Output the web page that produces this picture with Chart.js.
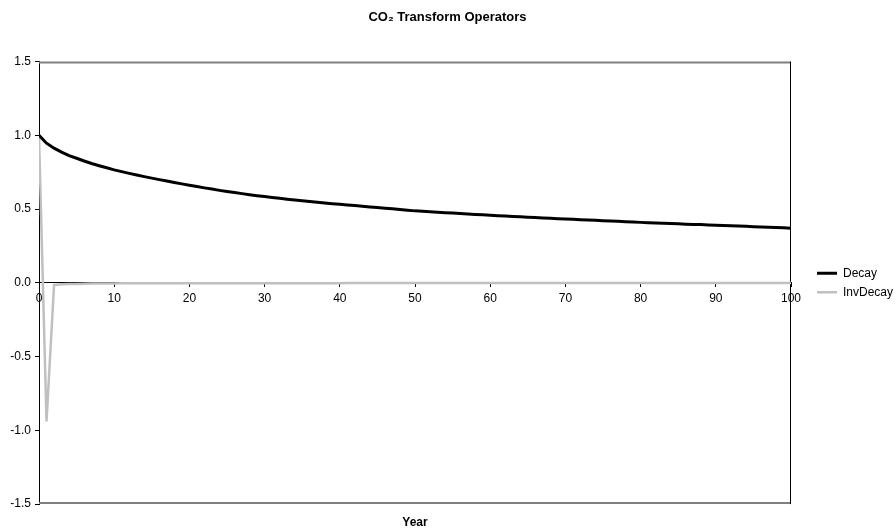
<!DOCTYPE html>
<html>
<head>
<meta charset="utf-8">
<script src="https://cdn.jsdelivr.net/npm/chart.js@4/dist/chart.umd.min.js"></script>
<style>
  body { margin: 0; background: #fff; }
  #wrap { width: 895px; height: 531px; position: relative; }
</style>
</head>
<body>
<div id="wrap"><canvas id="myChart"></canvas></div>
<script>
'use strict';

let years = [0,1,2,3,4,5,6,7,8,9,10,11,12,13,14,15,16,17,18,19,20,
  21,22,23,24,25,26,27,28,29,30,31,32,33,34,35,36,37,38,39,40,
  41,42,43,44,45,46,47,48,49,50,51,52,53,54,55,56,57,58,59,60,
  61,62,63,64,65,66,67,68,69,70,71,72,73,74,75,76,77,78,79,80,
  81,82,83,84,85,86,87,88,89,90,91,92,93,94,95,96,97,98,99,100];

let decay = [1.000,0.947,0.913,0.886,0.863,0.845,0.826,0.809,0.794,0.780,0.766,
  0.754,0.742,0.731,0.720,0.710,0.700,0.690,0.680,0.671,0.662,
  0.653,0.644,0.636,0.627,0.619,0.612,0.605,0.598,0.591,0.585,
  0.579,0.573,0.567,0.561,0.556,0.551,0.546,0.542,0.537,0.533,
  0.528,0.524,0.519,0.515,0.511,0.506,0.502,0.497,0.493,0.488,
  0.485,0.482,0.479,0.476,0.473,0.470,0.467,0.464,0.461,0.458,
  0.455,0.453,0.450,0.448,0.445,0.443,0.440,0.438,0.435,0.433,
  0.431,0.428,0.426,0.424,0.421,0.419,0.417,0.414,0.412,0.410,
  0.408,0.406,0.404,0.402,0.400,0.398,0.396,0.395,0.393,0.391,
  0.389,0.387,0.385,0.383,0.381,0.379,0.377,0.375,0.373,0.371];

let invDecay = [1.000,-0.940,-0.014,-0.010,-0.008,-0.007,-0.006,-0.005,-0.005,-0.004,-0.004,
  -0.003,-0.003,-0.003,-0.003,-0.003,-0.003,-0.003,-0.003,-0.003,-0.003,
  -0.002,-0.002,-0.002,-0.002,-0.002,-0.002,-0.002,-0.002,-0.002,-0.002,
  -0.002,-0.002,-0.002,-0.002,-0.002,-0.002,-0.002,-0.002,-0.002,-0.002,
  -0.001,-0.001,-0.001,-0.001,-0.001,-0.001,-0.001,-0.001,-0.001,-0.001,
  -0.001,-0.001,-0.001,-0.001,-0.001,-0.001,-0.001,-0.001,-0.001,-0.001,
  -0.001,-0.001,-0.001,-0.001,-0.001,-0.001,-0.001,-0.001,-0.001,-0.001,
  -0.001,-0.001,-0.001,-0.001,-0.001,-0.001,-0.001,-0.001,-0.001,-0.001,
  -0.001,-0.001,-0.001,-0.001,-0.001,-0.001,-0.001,-0.001,-0.001,-0.001,
  -0.001,-0.001,-0.001,-0.001,-0.001,-0.001,-0.001,-0.001,-0.001,-0.001];

let seriesNames = ['Decay', 'InvDecay'];
let yTicks = [-1.5, -1.0, -0.5, 0.0, 0.5, 1.0, 1.5];

function points(values) {
  return years.map((yr, i) => ({x: yr, y: values[i]}));
}

// gray frame round the plot area (top, bottom) and the right edge
const plotFrame = {
  id: 'plotFrame',
  beforeDatasetsDraw(chart) {
    const {ctx, chartArea: a} = chart;
    ctx.save();
    ctx.strokeStyle = '#808080';
    ctx.lineWidth = 2;
    ctx.beginPath();
    ctx.moveTo(a.left, a.top + 1);
    ctx.lineTo(a.right, a.top + 1);
    ctx.moveTo(a.left, a.bottom - 1);
    ctx.lineTo(a.right, a.bottom - 1);
    ctx.stroke();
    ctx.strokeStyle = '#000';
    ctx.lineWidth = 1;
    ctx.beginPath();
    ctx.moveTo(a.right - 0.5, a.top);
    ctx.lineTo(a.right - 0.5, a.bottom);
    ctx.stroke();
    ctx.restore();
  }
};

Chart.defaults.font.family = "'Liberation Sans', Arial, sans-serif";
Chart.defaults.font.size = 12;
Chart.defaults.color = '#000';

let ctx = document.getElementById('myChart');
new Chart(ctx, {
  type: 'line',
  data: {
    datasets: [{
      label: seriesNames[0],
      data: points(decay),
      borderColor: '#000000',
      backgroundColor: '#000000',
      borderWidth: 3,
      pointRadius: 0,
      tension: 0
    },
    {
      label: seriesNames[1],
      data: points(invDecay),
      borderColor: '#c0c0c0',
      backgroundColor: '#c0c0c0',
      borderWidth: 2.5,
      pointRadius: 0,
      tension: 0
    }]
  },
  options: {
    responsive: true,
    maintainAspectRatio: false,
    animation: false,
    layout: { padding: 0 },
    scales: {
      x: {
        type: 'linear',
        min: 0,
        max: 100,
        position: {y: 0},
        grid: { drawOnChartArea: false, color: '#000', tickLength: 4 },
        border: { color: '#000', width: 1 },
        ticks: { stepSize: 10, maxRotation: 0, padding: 5, autoSkip: false }
      },
      y: {
        min: -1.5,
        max: 1.5,
        position: 'left',
        afterBuildTicks(scale) {
          scale.ticks = yTicks.map(v => ({value: v}));
        },
        afterFit(scale) { scale.width = 39; },
        grid: { drawOnChartArea: false, color: '#000', tickLength: 4 },
        border: { color: '#000', width: 1 },
        ticks: { padding: 4, callback: v => Number(v).toFixed(1) }
      },
      gap: {
        type: 'linear',
        position: 'right',
        display: true,
        grid: { display: false },
        border: { display: false },
        ticks: { display: false },
        afterFit(scale) { scale.width = 19; }
      }
    },
    plugins: {
      title: {
        display: true,
        text: 'CO\u2082 Transform Operators',
        font: { size: 13, weight: 'bold' },
        padding: { top: 10, bottom: 36 }
      },
      subtitle: {
        display: true,
        text: 'Year',
        position: 'bottom',
        fullSize: false,
        font: { size: 12, weight: 'bold' },
        padding: { top: 11, bottom: 1.5 }
      },
      legend: {
        position: 'right',
        fullSize: false,
        maxWidth: 85,
        labels: {
          usePointStyle: true,
          pointStyle: 'line',
          pointStyleWidth: 20,
          padding: 7,
          font: { size: 12 }
        }
      },
      tooltip: { enabled: false }
    }
  },
  plugins: [plotFrame]
});
</script>
</body>
</html>
